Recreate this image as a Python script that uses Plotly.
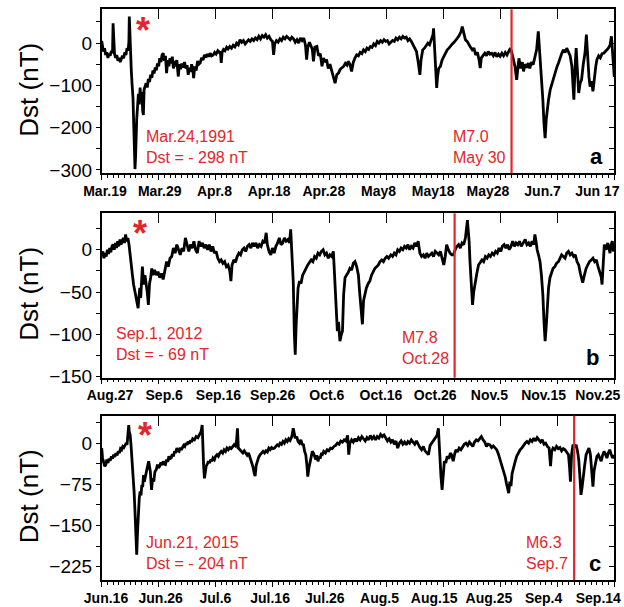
import plotly.graph_objects as go
import pandas as pd

# ---------------- data ----------------
tick_days = [0, 10, 20, 30, 40, 50, 60, 70, 80, 90]

a_start = "1991-03-19"
a_event = "1991-05-30"
a_ticks = ["Mar.19", "Mar.29", "Apr.8", "Apr.18", "Apr.28", "May8", "May18", "May28", "Jun.7", "Jun 17"]
a_storm = ["Mar.24,1991", "Dst = - 298 nT"]
a_quake = ["M7.0", "May 30"]
a_day = [
    0.0, 0.15, 0.3, 0.5, 0.7, 0.9, 1.1, 1.3, 1.5, 1.7,
    1.9, 2.0, 2.1, 2.25, 2.45, 2.65, 2.85, 3.05, 3.25, 3.45,
    3.65, 3.85, 4.05, 4.25, 4.45, 4.65, 4.78, 4.85, 4.92, 5.05,
    5.2, 5.35, 5.5, 5.62, 5.75, 5.85, 5.95, 6.05, 6.15, 6.3,
    6.45, 6.6, 6.75, 6.9, 7.05, 7.2, 7.32, 7.45, 7.6, 7.8,
    8.0, 8.2, 8.4, 8.6, 8.8, 9.0, 9.2, 9.4, 9.6, 9.8,
    10.0, 10.2, 10.4, 10.6, 10.8, 11.0, 11.2, 11.4, 11.6, 11.8,
    12.0, 12.2, 12.4, 12.6, 12.8, 13.0, 13.2, 13.45, 13.65, 13.85,
    14.05, 14.3, 14.55, 14.8, 15.0, 15.2, 15.4, 15.6, 15.8, 16.0,
    16.15, 16.35, 16.6, 16.85, 17.05, 17.3, 17.55, 17.8, 18.05, 18.3,
    18.55, 18.8, 19.05, 19.3, 19.6, 19.85, 20.1, 20.4, 20.65, 20.85,
    21.0, 21.15, 21.4, 21.65, 21.95, 22.2, 22.5, 22.8, 23.1, 23.4,
    23.7, 24.0, 24.3, 24.6, 24.9, 25.2, 25.5, 25.8, 26.1, 26.4,
    26.7, 27.0, 27.3, 27.6, 27.9, 28.2, 28.5, 28.8, 29.1, 29.4,
    29.7, 30.0, 30.2, 30.4, 30.7, 31.0, 31.3, 31.6, 31.9, 32.2,
    32.5, 32.8, 33.1, 33.4, 33.7, 34.0, 34.3, 34.6, 34.9, 35.2,
    35.5, 35.8, 36.0, 36.2, 36.5, 36.8, 37.0, 37.2, 37.45, 37.8,
    38.1, 38.4, 38.7, 38.95, 39.2, 39.5, 39.8, 40.1, 40.4, 40.7,
    41.0, 41.3, 41.6, 41.9, 42.2, 42.5, 42.8, 43.1, 43.3, 43.6,
    43.9, 44.2, 44.5, 44.8, 45.1, 45.4, 45.7, 46.0, 46.3, 46.6,
    46.9, 47.2, 47.5, 47.8, 48.1, 48.4, 48.7, 49.0, 49.3, 49.6,
    49.9, 50.2, 50.5, 50.8, 51.1, 51.4, 51.7, 52.0, 52.3, 52.6,
    52.9, 53.2, 53.5, 53.8, 54.1, 54.4, 54.7, 55.0, 55.3, 55.6,
    55.9, 56.1, 56.4, 56.7, 57.0, 57.3, 57.6, 57.9, 58.2, 58.3,
    58.45, 58.6, 58.85, 59.0, 59.2, 59.5, 59.8, 60.1, 60.4, 60.7,
    61.0, 61.3, 61.6, 61.9, 62.2, 62.5, 62.8, 63.1, 63.35, 63.6,
    63.9, 64.2, 64.5, 64.8, 65.1, 65.4, 65.7, 66.0, 66.3, 66.5,
    66.7, 67.0, 67.3, 67.6, 67.9, 68.2, 68.5, 68.8, 69.1, 69.4,
    69.7, 70.0, 70.3, 70.6, 70.9, 71.2, 71.5, 71.8, 72.0, 72.3,
    72.6, 72.9, 73.1, 73.3, 73.6, 73.9, 74.1, 74.4, 74.7, 74.96,
    75.2, 75.5, 75.8, 76.1, 76.4, 76.7, 76.9, 77.1, 77.3, 77.5,
    77.7, 77.9, 78.1, 78.3, 78.5, 78.8, 79.1, 79.4, 79.7, 80.0,
    80.25, 80.5, 80.8, 81.1, 81.4, 81.7, 82.0, 82.3, 82.6, 82.8,
    82.95, 83.15, 83.35, 83.55, 83.8, 84.05, 84.3, 84.6, 84.9, 85.15,
    85.4, 85.6, 85.8, 86.05, 86.3, 86.55, 86.8, 87.0, 87.3, 87.6,
    87.9, 88.2, 88.5, 88.8, 89.0, 89.3, 89.55, 89.75, 89.9, 90.05,
]
a_dst = [
    5, -8, -20, -12, -28, -22, -35, -25, -30, -18,
    -24, 47, -10, -25, -35, -28, -42, -35, -45, -38,
    -30, -36, -22, -28, -12, -18, 5, 63, 25, -40,
    -65, -100, -130, -190, -260, -298, -270, -210, -180, -150,
    -120, -145, -105, -140, -115, -160, -170, -110, -100, -95,
    -105, -85, -92, -75, -82, -65, -72, -58, -64, -48,
    -55, -36, -45, -28, -24, -42, -30, -71, -40, -55,
    -36, -48, -32, -60, -42, -55, -40, -79, -50, -62,
    -48, -58, -45, -60, -52, -75, -58, -68, -50, -62,
    -83, -55, -65, -42, -50, -47, -35, -40, -28, -34,
    -26, -32, -24, -30, -28, -22, -26, -18, -22, -20,
    -47, -22, -15, -18, -10, -14, -8, -12, -5, -9,
    0, -4, 8, 2, 6, -2, 3, 8, 4, 10,
    6, 12, 8, 16, 10, 18, 14, 20, 12, 16,
    8, 4, -28, -2, 6, 2, 10, 6, 14, 10,
    16, 12, 8, 14, 10, 2, 8, 0, 12, 6,
    12, -5, -39, -10, 2, -8, -15, -43, -10, -8,
    -30, -25, -55, -35, -45, -39, -60, -50, -67, -80,
    -95, -75, -71, -62, -58, -55, -48, -52, -43, -50,
    -67, -45, -35, -28, -30, -22, -25, -16, -20, -12,
    -15, -8, -10, -2, -6, 4, 0, 6, 2, 8,
    4, 6, -2, 2, 6, 4, 12, 8, 14, 10,
    16, 12, 14, 6, 10, 4, -4, -12, -20, -45,
    -75, -40, -16, -12, -6, 0, -4, 8, 20, 35,
    -10, -30, -106, -80, -60, -55, -40, -32, -22, -16,
    -12, -6, -2, 2, 6, 12, 18, 26, 39, 22,
    8, 4, -4, -10, -16, -12, -28, -22, -40, -59,
    -35, -28, -24, -30, -20, -26, -24, -30, -22, -32,
    -26, -31, -24, -30, -22, -28, -18, -12, -20, -39,
    -55, -87, -50, -36, -60, -45, -67, -50, -58, -47,
    -60, -45, -51, -35, -16, 28, -10, -39, -80, -134,
    -190, -225, -180, -150, -134, -110, -95, -79, -65, -55,
    -47, -35, -25, -16, -22, -12, -20, -30, -55, -100,
    -134, -60, -12, -60, -118, -95, -87, -50, -24, 20,
    -40, -80, -103, -90, -114, -80, -55, -39, -30, -35,
    -25, -24, -18, -15, -12, -5, 16, -20, -55, -80,
]

b_start = "2012-08-27"
b_event = "2012-10-28"
b_ticks = ["Aug.27", "Sep.6", "Sep.16", "Sep.26", "Oct.6", "Oct.16", "Oct.26", "Nov.5", "Nov.15", "Nov.25"]
b_storm = ["Sep.1, 2012", "Dst = - 69 nT"]
b_quake = ["M7.8", "Oct.28"]
b_day = [
    0.0, 0.2, 0.4, 0.6, 0.8, 1.0, 1.2, 1.4, 1.6, 1.8,
    2.0, 2.2, 2.4, 2.6, 2.8, 3.0, 3.2, 3.4, 3.6, 3.8,
    4.0, 4.2, 4.4, 4.6, 4.8, 5.0, 5.2, 5.4, 5.6, 5.8,
    6.0, 6.2, 6.4, 6.55, 6.7, 6.85, 7.0, 7.15, 7.3, 7.45,
    7.6, 7.8, 8.0, 8.2, 8.4, 8.6, 8.8, 9.0, 9.3, 9.6,
    9.9, 10.2, 10.5, 10.8, 11.1, 11.4, 11.7, 12.0, 12.3, 12.6,
    12.9, 13.2, 13.5, 13.8, 14.1, 14.4, 14.7, 15.0, 15.3, 15.6,
    15.9, 16.2, 16.5, 16.8, 17.1, 17.4, 17.7, 18.0, 18.3, 18.6,
    18.9, 19.2, 19.5, 19.8, 20.1, 20.4, 20.7, 21.0, 21.3, 21.6,
    21.9, 22.2, 22.5, 22.7, 22.9, 23.2, 23.5, 23.8, 24.1, 24.4,
    24.7, 25.0, 25.3, 25.6, 25.9, 26.2, 26.5, 26.8, 27.1, 27.4,
    27.7, 28.0, 28.3, 28.6, 28.9, 29.1, 29.4, 29.7, 30.0, 30.3,
    30.6, 30.9, 31.2, 31.5, 31.8, 32.1, 32.4, 32.7, 33.0, 33.2,
    33.45, 33.65, 33.85, 34.0, 34.15, 34.3, 34.5, 34.75, 35.0, 35.3,
    35.6, 35.9, 36.2, 36.5, 36.8, 37.1, 37.4, 37.7, 38.0, 38.3,
    38.6, 38.9, 39.2, 39.5, 39.8, 40.1, 40.4, 40.7, 40.95, 41.2,
    41.4, 41.6, 41.85, 42.1, 42.3, 42.5, 42.75, 43.0, 43.3, 43.6,
    43.9, 44.2, 44.5, 44.8, 45.1, 45.3, 45.55, 45.8, 46.0, 46.2,
    46.5, 46.8, 47.1, 47.4, 47.7, 48.0, 48.3, 48.6, 48.9, 49.2,
    49.5, 49.8, 50.1, 50.4, 50.8, 51.1, 51.4, 51.7, 52.0, 52.3,
    52.6, 52.9, 53.2, 53.5, 53.8, 54.1, 54.4, 54.7, 55.0, 55.3,
    55.6, 55.9, 56.2, 56.5, 56.8, 57.1, 57.4, 57.7, 58.0, 58.3,
    58.6, 58.9, 59.2, 59.5, 59.8, 60.1, 60.35, 60.6, 60.9, 61.2,
    61.5, 61.8, 62.1, 62.4, 62.7, 63.0, 63.3, 63.6, 63.9, 64.1,
    64.25, 64.4, 64.55, 64.7, 64.85, 65.0, 65.15, 65.35, 65.6, 65.9,
    66.2, 66.5, 66.8, 67.1, 67.4, 67.7, 68.0, 68.3, 68.6, 68.9,
    69.2, 69.5, 69.8, 70.1, 70.4, 70.7, 71.0, 71.3, 71.6, 71.9,
    72.2, 72.5, 72.8, 73.1, 73.4, 73.7, 74.0, 74.4, 74.7, 75.0,
    75.3, 75.6, 75.9, 76.1, 76.3, 76.5, 76.8, 77.0, 77.25, 77.5,
    77.7, 77.9, 78.1, 78.3, 78.5, 78.75, 79.0, 79.3, 79.6, 79.9,
    80.25, 80.5, 80.8, 81.1, 81.4, 81.7, 82.0, 82.3, 82.6, 82.9,
    83.2, 83.5, 83.8, 84.1, 84.5, 84.8, 85.1, 85.4, 85.7, 86.0,
    86.3, 86.6, 86.9, 87.2, 87.5, 87.75, 87.9, 88.1, 88.3, 88.6,
    88.9, 89.1, 89.3, 89.5, 89.7, 89.9, 90.1,
]
b_dst = [
    -8, -2, -10, -4, -8, 0, -5, 2, -3, 4,
    6, 0, 8, 2, 10, 4, 12, 6, 10, 14,
    8, 18, 10, 14, 6, -4, -14, -30, -41, -48,
    -53, -60, -69, -55, -45, -57, -40, -20, -35, -41,
    -30, -38, -50, -65, -40, -33, -22, -30, -24, -30,
    -26, -33, -28, -35, -25, -14, -20, -10, -8, 2,
    -4, 6, 0, -6, 2, -2, 14, 4, -2, 6,
    2, 10, 0, -4, 10, 4, 8, 2, 6, 0,
    6, -2, 4, -4, -2, -10, -14, -12, -16, -14,
    -20, -18, -25, -37, -18, -12, -15, -8, -4, -6,
    0, 2, -2, 4, 6, 2, 8, 4, 8, 2,
    6, 4, 10, 8, 20, 6, -2, -6, 2, -4,
    4, 8, 14, 6, 8, 14, 10, 12, 8, 24,
    -10, -37, -100, -124, -90, -61, -45, -37, -40, -30,
    -25, -22, -18, -15, -12, -14, -8, -10, -4, -6,
    -2, 0, -6, -4, -10, -6, -8, -2, -37, -65,
    -96, -85, -108, -100, -96, -53, -33, -30, -27, -22,
    -24, -16, -14, -20, -30, -49, -70, -88, -60, -53,
    -45, -40, -37, -30, -26, -22, -20, -18, -14, -12,
    -14, -10, -8, -10, -6, -8, -4, -6, 0, -2,
    2, 0, 4, 2, 6, 0, 4, 2, 8, 4,
    10, -4, -8, -6, -10, -4, -8, -6, -4, -8,
    -2, -4, -6, -2, -10, -18, -8, 6, 0, -4,
    -6, -6, 0, 4, 6, 2, 8, 6, 14, 24,
    35, 22, 10, -14, -30, -41, -65, -50, -37, -28,
    -18, -15, -12, -14, -8, -10, -6, -8, -4, -6,
    -2, -4, 2, -2, 4, 6, 2, 6, 0, 4,
    10, 4, 8, 6, 10, 4, 8, 12, 6, 8,
    4, 10, 6, 18, 10, 0, -8, -14, -30, -53,
    -85, -108, -90, -61, -45, -33, -28, -22, -20, -16,
    -14, -10, -6, -8, -10, -4, -2, -6, -4, -8,
    -6, -14, -18, -28, -39, -30, -22, -18, -14, -12,
    -10, -14, -12, -20, -26, -32, -41, -10, 6, 0,
    8, 2, -4, 6, 10, -2, 2,
]

c_start = "2015-06-16"
c_event = "2015-09-07"
c_ticks = ["Jun.16", "Jun.26", "Jul.6", "Jul.16", "Jul.26", "Aug.5", "Aug.15", "Aug.25", "Sep.4", "Sep.14"]
c_storm = ["Jun.21, 2015", "Dst = - 204 nT"]
c_quake = ["M6.3", "Sep.7"]
c_day = [
    0.0, 0.15, 0.35, 0.55, 0.75, 0.9, 1.1, 1.3, 1.5, 1.7,
    1.9, 2.1, 2.3, 2.5, 2.7, 2.9, 3.1, 3.3, 3.5, 3.7,
    3.9, 4.1, 4.3, 4.45, 4.6, 4.75, 4.85, 5.0, 5.15, 5.35,
    5.55, 5.7, 5.85, 6.0, 6.15, 6.3, 6.45, 6.6, 6.75, 6.9,
    7.05, 7.2, 7.35, 7.5, 7.65, 7.8, 7.95, 8.1, 8.25, 8.4,
    8.55, 8.75, 8.95, 9.15, 9.35, 9.6, 9.8, 10.0, 10.2, 10.4,
    10.6, 10.8, 11.0, 11.2, 11.4, 11.6, 11.8, 12.0, 12.2, 12.4,
    12.6, 12.8, 13.0, 13.2, 13.4, 13.6, 13.8, 14.0, 14.2, 14.4,
    14.6, 14.8, 15.0, 15.2, 15.4, 15.6, 15.8, 16.0, 16.3, 16.6,
    16.9, 17.2, 17.45, 17.65, 17.75, 17.9, 18.05, 18.2, 18.35, 18.55,
    18.75, 18.95, 19.15, 19.35, 19.55, 19.8, 20.0, 20.25, 20.5, 20.75,
    21.0, 21.25, 21.5, 21.75, 22.0, 22.25, 22.5, 22.75, 23.0, 23.25,
    23.5, 23.7, 23.85, 24.0, 24.3, 24.55, 24.8, 25.05, 25.3, 25.55,
    25.8, 26.05, 26.3, 26.55, 26.8, 26.95, 27.15, 27.35, 27.6, 27.85,
    28.1, 28.35, 28.6, 28.85, 29.1, 29.35, 29.6, 29.85, 30.1, 30.35,
    30.6, 30.85, 31.1, 31.35, 31.6, 31.85, 32.1, 32.35, 32.6, 32.85,
    33.1, 33.4, 33.65, 33.8, 34.0, 34.25, 34.5, 34.75, 35.0, 35.2,
    35.45, 35.65, 35.85, 36.05, 36.2, 36.4, 36.6, 36.8, 37.0, 37.2,
    37.4, 37.6, 37.8, 38.0, 38.2, 38.4, 38.6, 38.8, 39.0, 39.3,
    39.6, 39.9, 40.2, 40.5, 40.8, 41.1, 41.4, 41.7, 42.0, 42.3,
    42.6, 42.9, 43.2, 43.4, 43.6, 43.9, 44.2, 44.5, 44.8, 45.1,
    45.4, 45.7, 46.0, 46.3, 46.6, 46.9, 47.2, 47.5, 47.8, 48.1,
    48.4, 48.7, 49.0, 49.3, 49.6, 49.9, 50.2, 50.5, 50.8, 51.1,
    51.4, 51.7, 52.0, 52.3, 52.6, 52.9, 53.2, 53.5, 53.8, 54.1,
    54.4, 54.7, 55.0, 55.3, 55.6, 55.9, 56.2, 56.5, 56.8, 57.1,
    57.4, 57.7, 58.0, 58.3, 58.6, 58.9, 59.15, 59.3, 59.45, 59.6,
    59.8, 60.0, 60.2, 60.45, 60.7, 61.0, 61.25, 61.5, 61.75, 62.0,
    62.25, 62.5, 62.8, 63.1, 63.4, 63.7, 64.0, 64.3, 64.6, 64.9,
    65.2, 65.5, 65.8, 66.1, 66.4, 66.7, 67.0, 67.3, 67.6, 67.9,
    68.2, 68.5, 68.8, 69.1, 69.4, 69.7, 70.0, 70.3, 70.6, 70.9,
    71.1, 71.3, 71.5, 71.7, 71.9, 72.1, 72.3, 72.6, 72.9, 73.2,
    73.5, 73.8, 74.1, 74.4, 74.7, 75.0, 75.3, 75.6, 75.9, 76.2,
    76.5, 76.8, 77.1, 77.4, 77.7, 78.0, 78.3, 78.6, 78.85, 79.05,
    79.3, 79.6, 79.9, 80.2, 80.5, 80.8, 81.1, 81.4, 81.7, 82.0,
    82.2, 82.35, 82.55, 82.8, 83.1, 83.35, 83.6, 83.8, 84.0, 84.2,
    84.4, 84.6, 84.85, 85.1, 85.35, 85.6, 85.85, 86.1, 86.3, 86.5,
    86.75, 87.0, 87.25, 87.5, 87.75, 88.0, 88.25, 88.5, 88.75, 89.0,
    89.25, 89.5, 89.75, 90.05,
]
c_dst = [
    -9, -27, -35, -42, -38, -30, -36, -28, -32, -24,
    -28, -21, -25, -18, -22, -15, -18, -10, -12, -6,
    -8, -3, 0, -3, 10, 33, 20, 15, -3, -30,
    -58, -90, -125, -170, -203, -160, -119, -100, -88, -95,
    -76, -80, -58, -70, -62, -52, -45, -40, -33, -45,
    -52, -85, -64, -70, -52, -48, -39, -45, -42, -35,
    -40, -33, -38, -39, -30, -34, -24, -28, -27, -20,
    -24, -15, -18, -9, -14, -15, -8, -12, -9, -4,
    -6, 0, -3, 3, -1, 5, 2, 8, 6, 12,
    10, 16, 21, 33, -5, -40, -64, -50, -42, -38,
    -33, -36, -30, -33, -27, -30, -24, -21, -24, -18,
    -15, -18, -12, -15, -9, -12, -8, -10, -6, -3,
    -5, 5, 27, -9, -12, -15, -18, -14, -18, -22,
    -18, -26, -33, -42, -55, -60, -40, -33, -25, -21,
    -18, -15, -18, -14, -16, -9, -12, -8, -10, -9,
    -6, -3, -5, 0, -2, 3, 0, 6, 3, 8,
    5, 12, 27, 15, 9, 12, 3, 0, 6, -2,
    -3, -15, -21, -40, -61, -45, -33, -22, -15, -18,
    -24, -30, -22, -33, -25, -28, -18, -20, -15, -18,
    -12, -14, -9, -10, -6, -4, 0, -2, 4, 2,
    6, 4, 14, -21, 0, 6, 2, 8, 3, 10,
    6, 12, 8, 4, 10, 6, 14, 8, 12, 6,
    12, 9, 16, 12, 15, 8, 4, 8, 2, 6,
    -2, 4, -9, 0, 4, -2, 2, -3, 3, 0,
    6, 2, -2, 4, -3, -8, -12, -6, -14, -18,
    -21, -4, 0, 4, 9, 14, 27, -9, -39, -60,
    -85, -60, -33, -36, -24, -28, -18, -22, -33, -20,
    -12, -16, -9, -12, -6, -2, 0, -4, 2, -3,
    -6, 2, 6, 4, 9, 12, 6, 2, -6, -2,
    -3, -8, -5, -9, -12, -20, -30, -40, -52, -62,
    -73, -85, -91, -70, -78, -55, -45, -35, -24, -18,
    -12, -9, -4, 0, 3, 0, 6, 3, 9, 4,
    10, 6, 2, 6, -2, 0, -6, -9, -42, -15,
    -9, -12, -6, -10, -8, -14, -10, -12, -16, -21,
    -45, -70, -20, -3, -6, -3, -15, -30, -60, -94,
    -80, -58, -40, -21, -15, -9, -20, -50, -79, -50,
    -33, -24, -21, -28, -33, -22, -15, -20, -27, -18,
    -12, -20, -27, -22,
]

# ---------------- styling ----------------
FONT = "Arial, 'Liberation Sans', sans-serif"
RED = "#e3262b"
W, H = 624, 607
X0, X1 = 101.7, 614.0            # plot area, pixels
XDOM = [X0 / W, X1 / W]

panels = [
    dict(day=a_day, dst=a_dst, start=a_start, event=a_event, ticks=a_ticks,
         storm=a_storm, quake=a_quake, yr=[-308, 80], dtick=100, minor=50,
         dom=[0.7145, 0.9847], storm_xy=(7.4, -245), quake_y=-245,
         star=(7.2, 0.873), letter="a", letter_xy=(0.966, 0.105),
         lab=(105.0, 54.7)),
    dict(day=b_day, dst=b_dst, start=b_start, event=b_event, ticks=b_ticks,
         storm=b_storm, quake=b_quake, yr=[-151, 43], dtick=50, minor=25,
         dom=[0.3778, 0.6486], storm_xy=(2.1, -111.5), quake_y=-115.4,
         star=(6.73, 0.877), letter="b", letter_xy=(0.959, 0.12),
         lab=(110.0, 54.2)),
    dict(day=c_day, dst=c_dst, start=c_start, event=c_event, ticks=c_ticks,
         storm=c_storm, quake=c_quake, yr=[-249, 50], dtick=75, minor=37.5,
         dom=[0.0445, 0.3152], storm_xy=(7.4, -199), quake_y=-199,
         star=(7.6, 0.881), letter="c", letter_xy=(0.963, 0.103),
         lab=(106.0, 54.7)),
]

fig = go.Figure()
layout = {}
annotations = []
shapes = []

for i, p in enumerate(panels, start=1):
    s = "" if i == 1 else str(i)
    o = str(i + 3)      # top / right tick axes
    q = str(i + 6)      # label axis (date labels as printed in the figure)
    xa, ya = "x" + s, "y" + s

    fig.add_trace(go.Scatter(x=p["day"], y=p["dst"], mode="lines",
                             line=dict(color="black", width=2.8),
                             xaxis=xa, yaxis=ya, showlegend=False, hoverinfo="skip"))
    for xx, yy in (("x" + o, ya), (xa, "y" + o), ("x" + q, ya)):
        fig.add_trace(go.Scatter(x=[], y=[], xaxis=xx, yaxis=yy, showlegend=False))

    layout["xaxis" + s] = dict(
        domain=XDOM, anchor=ya, range=[0, 90], automargin=False,
        tickmode="array", tickvals=tick_days, showticklabels=False,
        ticks="outside", ticklen=5, tickwidth=1.2, tickcolor="black",
        minor=dict(tick0=0, dtick=1, ticks="outside", ticklen=3, tickwidth=1, tickcolor="black"),
        showline=True, linewidth=1.6, linecolor="black", mirror=True,
        showgrid=False, zeroline=False)
    # labels are spaced as in the printed figure
    ppd = p["lab"][1] / 10.0
    r0 = -(p["lab"][0] - X0) / ppd
    r1 = r0 + (X1 - X0) / ppd
    layout["xaxis" + q] = dict(
        overlaying=xa, anchor=ya, side="bottom", range=[r0, r1], automargin=False,
        tickmode="array", tickvals=tick_days, ticktext=p["ticks"],
        ticklabeloverflow="allow", tickangle=0,
        ticks="outside", ticklen=5, tickcolor="rgba(0,0,0,0)",
        showline=False, showgrid=False, zeroline=False,
        tickfont=dict(family=FONT, size=14, color="black", weight="bold"))
    layout["yaxis" + s] = dict(
        domain=p["dom"], anchor=xa, range=p["yr"], automargin=False,
        tick0=0, dtick=p["dtick"], ticklabeloverflow="allow",
        ticks="outside", ticklen=4, tickwidth=1.2, tickcolor="black",
        minor=dict(tick0=0, dtick=p["minor"], ticks="outside", ticklen=4, tickwidth=1.2, tickcolor="black"),
        showline=True, linewidth=1.6, linecolor="black", mirror=True,
        showgrid=False, zeroline=False,
        tickfont=dict(family=FONT, size=19, color="black"))
    layout["xaxis" + o] = dict(
        overlaying=xa, anchor=ya, side="top", range=[0, 90], automargin=False,
        tickmode="array", tickvals=tick_days,
        ticks="inside", ticklen=10, tickwidth=1.3, tickcolor="black",
        showticklabels=False, showline=False, showgrid=False, zeroline=False)
    layout["yaxis" + o] = dict(
        overlaying=ya, anchor=xa, side="right", range=p["yr"], automargin=False,
        tick0=0, dtick=p["minor"],
        ticks="inside", ticklen=5, tickwidth=1.3, tickcolor="black",
        showticklabels=False, showline=False, showgrid=False, zeroline=False)

    ev = (pd.Timestamp(p["event"]) - pd.Timestamp(p["start"])).days
    shapes.append(dict(type="line", xref=xa, x0=ev, x1=ev,
                       yref=ya + " domain", y0=0, y1=1,
                       line=dict(color=RED, width=2.2)))

    annotations += [
        dict(text="Dst (nT)", xref="paper", x=29 / W, yref=ya + " domain", y=0.51,
             textangle=-90, showarrow=False, xanchor="center", yanchor="middle",
             font=dict(family=FONT, size=26, color="black")),
        dict(text="<br>".join(p["storm"]), xref=xa, x=p["storm_xy"][0],
             yref=ya, y=p["storm_xy"][1], xanchor="left", yanchor="middle",
             align="left", showarrow=False,
             font=dict(family=FONT, size=16, color=RED)),
        dict(text="<br>".join(p["quake"]), xref=xa, x=ev, xshift=-4,
             yref=ya, y=p["quake_y"], xanchor="right", yanchor="middle",
             align="left", showarrow=False,
             font=dict(family=FONT, size=16, color=RED)),
        dict(text="*", xref=xa, x=p["star"][0], yref=ya + " domain", y=p["star"][1],
             xanchor="center", yanchor="middle", showarrow=False,
             font=dict(family=FONT, size=36, color=RED, weight="bold")),
        dict(text=p["letter"], xref=xa + " domain", x=p["letter_xy"][0],
             yref=ya + " domain", y=p["letter_xy"][1],
             xanchor="center", yanchor="middle", showarrow=False,
             font=dict(family=FONT, size=22, color="black", weight="bold")),
    ]

fig.update_layout(
    template="none",
    width=W, height=H,
    margin=dict(l=0, r=0, t=0, b=0, pad=0),
    paper_bgcolor="white", plot_bgcolor="white",
    showlegend=False,
    annotations=annotations, shapes=shapes,
    **layout,
)

fig.write_html("out.html")
